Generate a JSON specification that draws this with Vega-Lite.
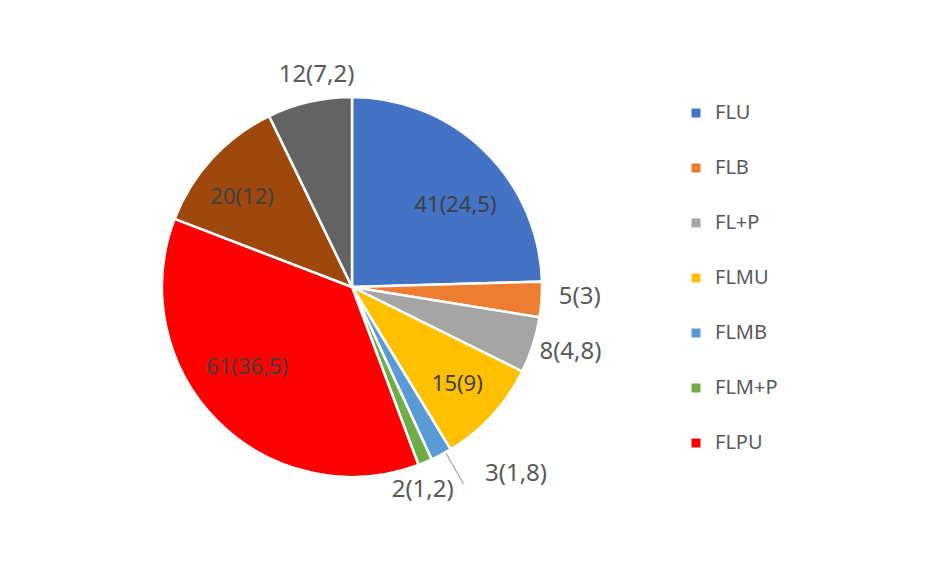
{
  "$schema": "https://vega.github.io/schema/vega-lite/v6.json",
  "autosize": "none",
  "padding": {"left": 0, "top": 0, "right": 245, "bottom": 0},
  "width": 704,
  "height": 574,
  "background": "white",
  "config": {"view": {"stroke": null}, "font": "Noto Sans"},
  "data": {"values": [
    {"cat": "FLU", "value": 41, "idx": 1, "label": "41(24,5)"},
    {"cat": "FLB", "value": 5, "idx": 2, "label": "5(3)"},
    {"cat": "FL+P", "value": 8, "idx": 3, "label": "8(4,8)"},
    {"cat": "FLMU", "value": 15, "idx": 4, "label": "15(9)"},
    {"cat": "FLMB", "value": 3, "idx": 5, "label": "3(1,8)"},
    {"cat": "FLM+P", "value": 2, "idx": 6, "label": "2(1,2)"},
    {"cat": "FLPU", "value": 61, "idx": 7, "label": "61(36,5)"},
    {"cat": "FLPB", "value": 20, "idx": 8, "label": "20(12)"},
    {"cat": "FLP+P", "value": 12, "idx": 9, "label": "12(7,2)"}
  ]},
  "encoding": {
    "theta": {"field": "value", "type": "quantitative", "stack": true},
    "order": {"field": "idx", "type": "quantitative"}
  },
  "layer": [
    {
      "mark": {"type": "arc", "outerRadius": 190, "stroke": "white", "strokeWidth": 2.5},
      "encoding": {
        "color": {
          "field": "cat", "type": "nominal",
          "scale": {
            "domain": ["FLU", "FLB", "FL+P", "FLMU", "FLMB", "FLM+P", "FLPU", "FLPB", "FLP+P"],
            "range": ["#4472C4", "#ED7D31", "#A5A5A5", "#FFC000", "#5B9BD5", "#70AD47", "#FF0000", "#9E480E", "#636363"]
          },
          "legend": {
            "title": null,
            "values": ["FLU", "FLB", "FL+P", "FLMU", "FLMB", "FLM+P", "FLPU"],
            "orient": "none",
            "legendX": 686,
            "legendY": 103,
            "padding": 0,
            "symbolType": "square",
            "symbolSize": 81,
            "symbolStrokeWidth": 0,
            "labelFont": "Noto Sans",
            "labelFontSize": 20,
            "labelColor": "#595959",
            "labelOffset": 9,
            "rowPadding": 35
          }
        }
      }
    },
    {
      "mark": {"type": "arc", "radius": 191, "radius2": 226, "padAngle": 0.6, "thetaOffset": -0.026, "fill": null, "stroke": "#A6A6A6", "strokeWidth": 1},
      "encoding": {
        "opacity": {"condition": {"test": "datum.cat == 'FLMB'", "value": 1}, "value": 0}
      }
    },
    {
      "mark": {"type": "text", "radius": 132, "thetaOffset": 0.13, "fontSize": 22, "color": "#404040"},
      "encoding": {
        "text": {"condition": {"test": "indexof(['FLU','FLPU'], datum.cat) >= 0", "field": "label"}, "value": ""}
      }
    },
    {
      "mark": {"type": "text", "radius": 143, "fontSize": 22, "color": "#404040"},
      "encoding": {
        "text": {"condition": {"test": "datum.cat == 'FLMU'", "field": "label"}, "value": ""}
      }
    },
    {
      "mark": {"type": "text", "radius": 142, "thetaOffset": -0.057, "fontSize": 22, "color": "#404040"},
      "encoding": {
        "text": {"condition": {"test": "datum.cat == 'FLPB'", "field": "label"}, "value": ""}
      }
    },
    {
      "mark": {"type": "text", "radius": 228, "thetaOffset": -0.02, "fontSize": 24, "color": "#595959"},
      "encoding": {
        "text": {"condition": {"test": "indexof(['FLB','FL+P'], datum.cat) >= 0", "field": "label"}, "value": ""}
      }
    },
    {
      "mark": {"type": "text", "radius": 215, "thetaOffset": 0.06, "fontSize": 24, "color": "#595959"},
      "encoding": {
        "text": {"condition": {"test": "indexof(['FLM+P','FLP+P'], datum.cat) >= 0", "field": "label"}, "value": ""}
      }
    },
    {
      "mark": {"type": "text", "radius": 249, "thetaOffset": -0.23, "fontSize": 24, "color": "#595959"},
      "encoding": {
        "text": {"condition": {"test": "datum.cat == 'FLMB'", "field": "label"}, "value": ""}
      }
    }
  ]
}
